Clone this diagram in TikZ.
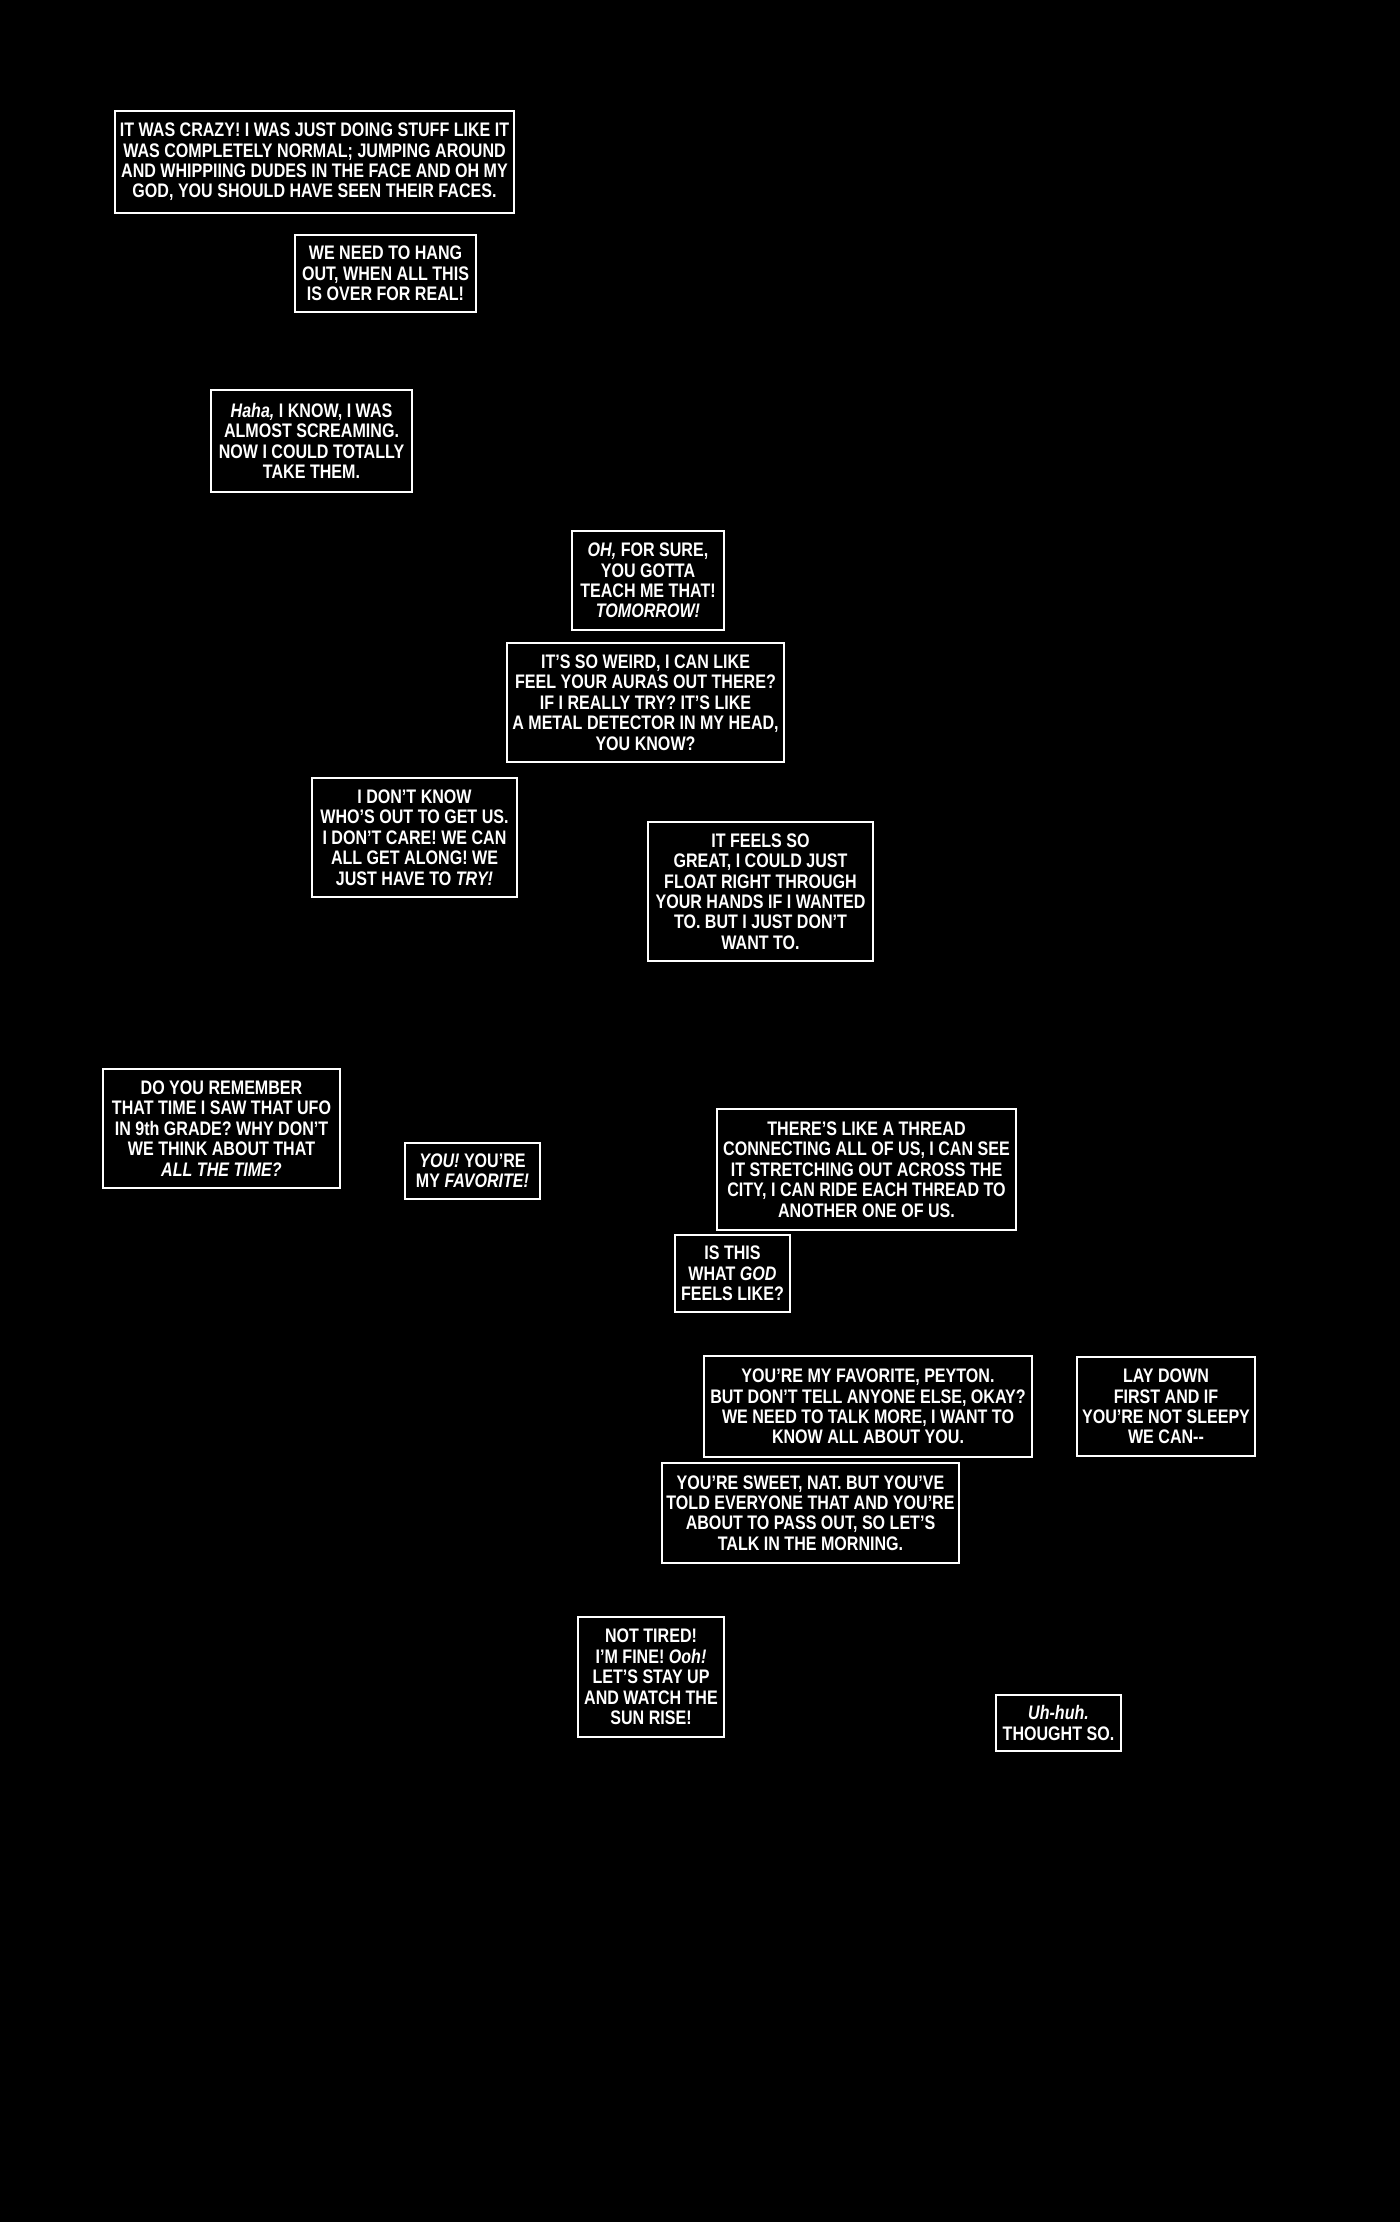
\documentclass[tikz,border=0pt]{standalone}
\usepackage{fontspec}
\usepackage{xcolor}
\usepackage{tikz}
\setmainfont{Liberation Sans}[FakeStretch=0.82]
\definecolor{panelblack}{RGB}{0,0,0}
\definecolor{captionwhite}{RGB}{255,255,255}
\tikzset{
  caption/.style 2 args={draw=captionwhite,line width=1.3pt,fill=panelblack,
    text=captionwhite,align=center,inner sep=2pt,
    font=\bfseries\fontsize{9.8pt}{10.2pt}\selectfont,
    minimum width={#1*0.5pt},minimum height={#2*0.5pt}}
}
\newcommand{\stress}[1]{\textit{#1}}
\begin{document}
\begin{tikzpicture}[x=0.5pt,y=-0.5pt]
                % page
                \fill[panelblack] (0,0) rectangle (1400,2222);
                % first captions
                \node[caption={399}{102}] (crazy) at (314.5,162) {IT WAS CRAZY! I WAS JUST DOING STUFF LIKE IT\\WAS COMPLETELY NORMAL; JUMPING AROUND\\AND WHIPPIING DUDES IN THE FACE AND OH MY\\GOD, YOU SHOULD HAVE SEEN THEIR FACES.};
                \node[caption={181}{77}] (hangout) at (385.5,273.5) {WE NEED TO HANG\\OUT, WHEN ALL THIS\\IS OVER FOR REAL!};
                \node[caption={201}{102}] (haha) at (311.5,441) {\stress{Haha,} I KNOW, I WAS\\ALMOST SCREAMING.\\NOW I COULD TOTALLY\\TAKE THEM.};
                \node[caption={152}{99}] (forsure) at (648,580.5) {\stress{OH,} FOR SURE,\\YOU GOTTA\\TEACH ME THAT!\\\stress{TOMORROW!}};
                \node[caption={277}{119}] (weird) at (645.5,702.5) {IT'S SO WEIRD, I CAN LIKE\\FEEL YOUR AURAS OUT THERE?\\IF I REALLY TRY? IT'S LIKE\\A METAL DETECTOR IN MY HEAD,\\YOU KNOW?};
                \node[caption={205}{119}] (dontknow) at (414.5,837.5) {I DON'T KNOW\\WHO'S OUT TO GET US.\\I DON'T CARE! WE CAN\\ALL GET ALONG! WE\\JUST HAVE TO \stress{TRY!}};
                \node[caption={225}{139}] (float) at (760.5,891.5) {IT FEELS SO\\GREAT, I COULD JUST\\FLOAT RIGHT THROUGH\\YOUR HANDS IF I WANTED\\TO. BUT I JUST DON'T\\WANT TO.};
                % middle captions
                \node[caption={237}{119}] (ufo) at (221.5,1128.5) {DO YOU REMEMBER\\THAT TIME I SAW THAT UFO\\IN 9th GRADE? WHY DON'T\\WE THINK ABOUT THAT\\\stress{ALL THE TIME?}};
                \node[caption={135}{56}] (favorite) at (472.5,1171) {\stress{YOU!} YOU'RE\\MY \stress{FAVORITE!}};
                \node[caption={299}{121}] (thread) at (866.5,1169.5) {THERE'S LIKE A THREAD\\CONNECTING ALL OF US, I CAN SEE\\IT STRETCHING OUT ACROSS THE\\CITY, I CAN RIDE EACH THREAD TO\\ANOTHER ONE OF US.};
                \node[caption={115}{77}] (god) at (732.5,1273.5) {IS THIS\\WHAT \stress{GOD}\\FEELS LIKE?};
                % last captions
                \node[caption={328}{101}] (peyton) at (868,1406.5) {YOU'RE MY FAVORITE, PEYTON.\\BUT DON'T TELL ANYONE ELSE, OKAY?\\WE NEED TO TALK MORE, I WANT TO\\KNOW ALL ABOUT YOU.};
                \node[caption={178}{99}] (laydown) at (1166,1406.5) {LAY DOWN\\FIRST AND IF\\YOU'RE NOT SLEEPY\\WE CAN-{}-};
                \node[caption={297}{100}] (sweet) at (810.5,1513) {YOU'RE SWEET, NAT. BUT YOU'VE\\TOLD EVERYONE THAT AND YOU'RE\\ABOUT TO PASS OUT, SO LET'S\\TALK IN THE MORNING.};
                \node[caption={146}{120}] (nottired) at (651,1677) {NOT TIRED!\\I'M FINE! \stress{Ooh!}\\LET'S STAY UP\\AND WATCH THE\\SUN RISE!};
                \node[caption={125}{56}] (uhhuh) at (1058.5,1723) {\stress{Uh-huh.}\\THOUGHT SO.};
            \end{tikzpicture}
\end{document}
